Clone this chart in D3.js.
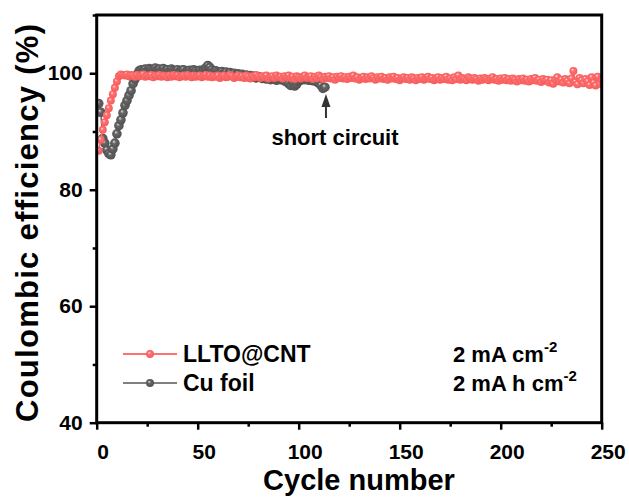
<!DOCTYPE html>
<html><head><meta charset="utf-8">
<script src="https://cdn.jsdelivr.net/npm/d3@7"></script>
<style>
html,body{margin:0;padding:0;background:#fff;}
text{font-family:"Liberation Sans",Arial,sans-serif;font-weight:bold;fill:#000;}
</style></head>
<body><svg id="c" width="629" height="497"></svg>
<script>
const xTicks = [0, 50, 100, 150, 200, 250];
const yTicks = [40, 60, 80, 100];
const seriesNames = ["LLTO@CNT", "Cu foil"];
const conditionLabels = ["2 mA cm", "2 mA h cm"];
const annotation = "short circuit";

// LLTO@CNT, cycles 1..250
const llto = [
 86.7, 88.6, 90.3, 91.6, 92.8, 94.0, 95.3, 96.4, 97.5, 98.6,
 99.5, 99.8, 99.7, 99.6, 99.8, 99.5, 99.7, 99.6, 99.4, 99.7,
 99.5, 99.6, 99.8, 99.4, 99.6, 99.5, 99.7, 99.3, 99.6, 99.5,
 99.7, 99.4, 99.6, 99.5, 99.3, 99.6, 99.4, 99.7, 99.5, 99.6,
 99.3, 99.5, 99.6, 99.4, 99.7, 99.5, 99.3, 99.6, 99.4, 99.5,
 99.6, 99.3, 99.5, 99.7, 99.4, 99.6, 99.3, 99.5, 99.4, 99.6,
 99.2, 99.5, 99.6, 99.3, 99.4, 99.7, 99.5, 99.2, 99.4, 99.6,
 99.3, 99.5, 99.2, 99.6, 99.4, 99.1, 99.5, 99.3, 99.7, 99.4,
 99.2, 99.5, 99.3, 99.6, 99.1, 99.4, 99.5, 99.2, 99.6, 99.3,
 99.4, 99.1, 99.5, 99.3, 99.6, 99.2, 99.4, 99.0, 99.5, 99.3,
 99.1, 99.4, 99.6, 99.2, 99.3, 99.5, 99.0, 99.4, 99.2, 99.6,
 99.3, 99.0, 99.4, 99.2, 99.5, 99.1, 99.3, 98.9, 99.4, 99.2,
 99.5, 99.1, 99.3, 99.0, 99.4, 99.2, 99.6, 99.1, 99.3, 98.9,
 99.2, 99.4, 99.0, 99.3, 99.1, 99.5, 99.2, 98.9, 99.3, 99.1,
 99.4, 99.0, 99.2, 98.9, 99.3, 99.1, 99.4, 99.0, 99.2, 98.8,
 99.1, 99.3, 99.0, 99.2, 98.9, 99.3, 99.1, 98.8, 99.2, 99.0,
 99.3, 98.9, 99.1, 99.4, 99.0, 99.2, 98.8, 99.1, 99.3, 98.9,
 99.2, 99.0, 99.4, 98.9, 99.1, 98.8, 99.3, 99.0, 99.6, 98.9,
 99.2, 99.0, 98.8, 99.3, 99.1, 98.9, 99.2, 99.0, 98.7, 99.1,
 98.9, 99.2, 99.0, 98.8, 99.1, 99.3, 98.9, 99.0, 98.7, 99.1,
 98.9, 99.2, 98.8, 99.0, 98.7, 99.1, 98.9, 98.6, 99.0, 98.8,
 99.1, 98.7, 98.9, 98.6, 99.0, 98.8, 99.2, 98.7, 98.9, 98.5,
 99.0, 98.7, 98.9, 98.4, 98.8, 98.2, 98.9, 99.3, 98.6, 98.9,
 98.4, 99.0, 98.7, 98.3, 99.1, 100.4, 98.5, 98.1, 99.2, 98.8,
 98.3, 99.0, 98.6, 98.0, 99.3, 98.4, 97.9, 99.4, 98.2, 98.8
];

// Cu foil, cycles 1..113
const cu = [
 94.8, 93.3, 88.8, 88.0, 86.8, 86.2, 86.0, 87.0, 88.0, 89.6,
 91.0, 92.0, 93.2, 94.5, 95.3, 96.2, 97.0, 98.2, 99.0, 99.8,
 100.4, 100.6, 100.5, 100.7, 100.4, 100.8, 100.6, 100.5, 100.9, 100.6,
 100.7, 100.4, 100.8, 100.5, 100.6, 100.3, 100.7, 100.5, 100.4, 100.6,
 100.3, 100.5, 100.6, 100.2, 100.4, 100.5, 100.3, 100.6, 100.4, 100.2,
 100.5, 100.3, 100.6, 100.9, 101.3, 101.0, 100.6, 100.3, 100.4, 100.2,
 100.1, 100.3, 100.0, 100.2, 99.9, 100.1, 99.8, 100.0, 99.7, 99.9,
 99.6, 99.8, 99.5, 99.7, 99.4, 99.6, 99.3, 99.5, 99.2, 99.4,
 99.3, 99.1, 99.2, 99.0, 99.2, 98.9, 99.1, 99.0, 98.8, 99.0,
 98.9, 99.0, 98.7, 98.5, 98.2, 97.9, 98.4, 97.8, 98.1, 98.6,
 98.8, 99.0, 98.9, 99.1, 98.8, 99.0, 98.7, 98.9, 98.5, 98.3,
 97.9, 97.4, 97.6
];
const shortCircuitCycle = 113;

const svg = d3.select("#c");
const L = 96.7, R = 601.7, T = 15, B = 422.7;
const x = d3.scaleLinear().domain([0, 250]).range([L, R]);
const y = d3.scaleLinear().domain([40, 110]).range([B, T]);

const defs = svg.append("defs");
function grad(id, light, base, dark) {
  const g = defs.append("radialGradient").attr("id", id)
    .attr("cx", "50%").attr("cy", "50%").attr("r", "55%")
    .attr("fx", "38%").attr("fy", "32%");
  g.append("stop").attr("offset", "0%").attr("stop-color", light);
  g.append("stop").attr("offset", "35%").attr("stop-color", base);
  g.append("stop").attr("offset", "100%").attr("stop-color", dark);
}
grad("gRed", "#ffe4e4", "#ff6f6f", "#f45a5a");
grad("gGray", "#e0e0e0", "#666666", "#4e4e4e");

const clip = defs.append("clipPath").attr("id", "plotclip");
clip.append("rect").attr("x", L).attr("y", T).attr("width", R - L).attr("height", B - T);

const plot = svg.append("g").attr("clip-path", "url(#plotclip)");
const line = d3.line().x((d, i) => x(i + 1)).y(d => y(d));

function drawSeries(data, color, gradId, r) {
  plot.append("path").datum(data).attr("d", line)
    .attr("fill", "none").attr("stroke", color).attr("stroke-width", 1.5);
  plot.selectAll(null).data(data).enter().append("circle")
    .attr("cx", (d, i) => x(i + 1)).attr("cy", d => y(d)).attr("r", r)
    .attr("fill", `url(#${gradId})`);
}
drawSeries(cu, "#666666", "gGray", 4.8);
drawSeries(llto, "#ff7070", "gRed", 4.0);

// axes
const xAxis = d3.axisBottom(x).tickValues(xTicks).tickSize(7).tickFormat(d3.format("d"));
const xMinor = d3.axisBottom(x).tickValues([25, 75, 125, 175, 225]).tickSize(4).tickFormat("");
const yAxis = d3.axisLeft(y).tickValues(yTicks).tickSize(7).tickPadding(7).tickFormat(d3.format("d"));
const yMinor = d3.axisLeft(y).tickValues([50, 70, 90, 110]).tickSize(4).tickFormat("");

function styleAxis(g) {
  g.select(".domain").remove();
  g.selectAll(".tick line").attr("stroke", "#000").attr("stroke-width", 2.5);
  g.selectAll(".tick text").style("font-size", "21px").style("font-family", "'Liberation Sans',Arial,sans-serif").style("font-weight", "bold").attr("fill", "#000");
}
const gx = svg.append("g").attr("transform", `translate(0,${B})`).call(xAxis).call(styleAxis);
gx.selectAll(".tick text").attr("y", 36.5).attr("dy", 0).attr("dx", 6);
svg.append("g").attr("transform", `translate(0,${B})`).call(xMinor).call(styleAxis);
svg.append("g").attr("transform", `translate(${L},0)`).call(yAxis).call(styleAxis);
svg.append("g").attr("transform", `translate(${L},0)`).call(yMinor).call(styleAxis);

svg.append("rect").attr("x", L).attr("y", T).attr("width", R - L).attr("height", B - T)
  .attr("fill", "none").attr("stroke", "#000").attr("stroke-width", 3);

// titles
svg.append("text").attr("x", 359).attr("y", 490).attr("text-anchor", "middle")
  .style("font-size", "29px").text("Cycle number");
svg.append("text").attr("transform", `translate(38,422) rotate(-90)`).attr("text-anchor", "start")
  .attr("textLength", 398).attr("lengthAdjust", "spacing")
  .style("font-size", "31px").text("Coulombic efficiency (%)");

// annotation
const ax = x(shortCircuitCycle) + 1;
svg.append("line").attr("x1", ax).attr("x2", ax).attr("y1", 118).attr("y2", 100)
  .attr("stroke", "#333").attr("stroke-width", 2);
svg.append("path").attr("d", `M${ax - 4.5},${107} L${ax},${94} L${ax + 4.5},${107} Z`).attr("fill", "#333");
svg.append("text").attr("x", 335).attr("y", 145).attr("text-anchor", "middle")
  .style("font-size", "22px").text(annotation);

// legend
const legY = [354, 383];
const legCols = ["#ff7070", "#808080"];
const legGr = ["gRed", "gGray"];
seriesNames.forEach((n, i) => {
  svg.append("line").attr("x1", 123).attr("x2", 177).attr("y1", legY[i]).attr("y2", legY[i])
    .attr("stroke", legCols[i]).attr("stroke-width", 2);
  svg.append("circle").attr("cx", 150).attr("cy", legY[i]).attr("r", 4)
    .attr("fill", `url(#${legGr[i]})`);
  svg.append("text").attr("x", 183).attr("y", legY[i] + 8).style("font-size", "23px").text(n);
});
conditionLabels.forEach((t, i) => {
  const tx = svg.append("text").attr("x", 453).attr("y", legY[i] + 8).style("font-size", "22px");
  tx.append("tspan").text(t);
  tx.append("tspan").attr("dy", -10).style("font-size", "15px").text("-2");
});
</script></body></html>
